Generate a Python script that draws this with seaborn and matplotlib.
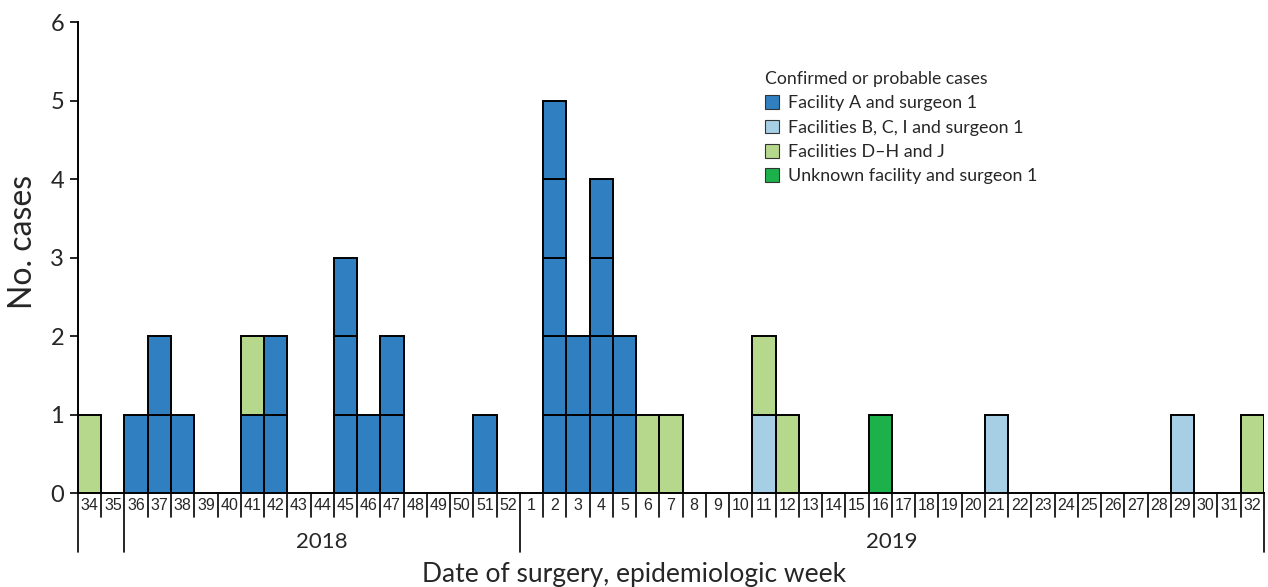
import numpy as np
import pandas as pd
import seaborn as sns
import matplotlib.pyplot as plt
from matplotlib.patches import Patch
from matplotlib.transforms import blended_transform_factory


# weeks 34-52 of 2018, then 1-32 of 2019
weeks_2018 = list(range(34, 53))
weeks_2019 = list(range(1, 33))
weeks = weeks_2018 + weeks_2019

categories = ["Facility A and surgeon 1",
              "Facilities B, C, I and surgeon 1",
              "Facilities D\u2013H and J",
              "Unknown facility and surgeon 1"]
colors = ["#2f7fc1", "#a6cee5", "#b6d88c", "#1db14b"]

# case counts per week
#               34 35 36 37 38 39 40 41 42 43 44 45 46 47 48 49 50 51 52
facility_a_18 = [0, 0, 1, 2, 1, 0, 0, 1, 2, 0, 0, 3, 1, 2, 0, 0, 0, 1, 0]
bci_18 =        [0] * 19
dhj_18 =        [1, 0, 0, 0, 0, 0, 0, 1, 0, 0, 0, 0, 0, 0, 0, 0, 0, 0, 0]
unknown_18 =    [0] * 19

#                1  2  3  4  5  6  7  8 |  9 10 11 12 13 14 15 16 | 17 18 19 20 21 22 23 24 | 25 26 27 28 29 30 31 32
facility_a_19 = [0, 5, 2, 4, 2, 0, 0, 0,   0, 0, 0, 0, 0, 0, 0, 0,   0, 0, 0, 0, 0, 0, 0, 0,   0, 0, 0, 0, 0, 0, 0, 0]
bci_19 =        [0, 0, 0, 0, 0, 0, 0, 0,   0, 0, 1, 0, 0, 0, 0, 0,   0, 0, 0, 0, 1, 0, 0, 0,   0, 0, 0, 0, 1, 0, 0, 0]
dhj_19 =        [0, 0, 0, 0, 0, 1, 1, 0,   0, 0, 1, 1, 0, 0, 0, 0,   0, 0, 0, 0, 0, 0, 0, 0,   0, 0, 0, 0, 0, 0, 0, 1]
unknown_19 =    [0, 0, 0, 0, 0, 0, 0, 0,   0, 0, 0, 0, 0, 0, 0, 1,   0, 0, 0, 0, 0, 0, 0, 0,   0, 0, 0, 0, 0, 0, 0, 0]

years = ["2018", "2019"]
yticks = [0, 1, 2, 3, 4, 5, 6]

counts = [facility_a_18 + facility_a_19,
          bci_18 + bci_19,
          dhj_18 + dhj_19,
          unknown_18 + unknown_19]
n = len(weeks)

# one row per case box, stacked in category order
rows = []
for i in range(n):
    level = 0
    for c, series in enumerate(counts):
        for _ in range(series[i]):
            rows.append({"x": i, "bottom": level, "cat": c})
            level += 1
boxes = pd.DataFrame(rows)

sns.set_theme(style="white")
plt.rcParams['font.family'] = ['Lato', 'DejaVu Sans']

fig = plt.figure(figsize=(12.68, 5.87), dpi=100)
ax = fig.add_axes([0.0615, 0.160, 0.9353, 0.8025])

ax.bar(boxes["x"], 1, bottom=boxes["bottom"], width=1.0,
       color=[colors[c] for c in boxes["cat"]], edgecolor="black", linewidth=1.4, zorder=3)

ax.set_xlim(-0.5, n - 0.5)
ax.set_ylim(0, 6)
ax.set_yticks(yticks)
ax.set_yticklabels([str(t) for t in yticks], fontsize=17)
ax.tick_params(axis="y", direction="out", length=6, width=1.2, color="black", left=True, pad=4)
ax.set_xticks([])
for s in ["top", "right"]:
    ax.spines[s].set_visible(False)
for s in ["left", "bottom"]:
    ax.spines[s].set_color("black")
    ax.spines[s].set_linewidth(1.4)

trans = blended_transform_factory(ax.transData, ax.transAxes)

# week label row with separators; longer lines mark the year blocks
year_edges = [-0.5, 1.5, 18.5, n - 0.5]
for i in range(n + 1):
    xb = i - 0.5
    y_end = -0.125 if xb in year_edges else -0.051
    ax.plot([xb, xb], [0, y_end], color="black", lw=1.2, transform=trans, clip_on=False)
for i, w in enumerate(weeks):
    ax.text(i, -0.027, str(w), transform=trans, ha="center", va="center",
            fontsize=11.5, family=["Liberation Sans", "DejaVu Sans"])

ax.text(10, -0.104, years[0], transform=trans, ha="center", va="center", fontsize=16)
ax.text(34.5, -0.104, years[1], transform=trans, ha="center", va="center", fontsize=16)

fig.text(0.5, 0.022, "Date of surgery, epidemiologic week", ha="center", va="center", fontsize=19)
fig.text(0.018, 0.588, "No. cases", ha="center", va="center", rotation=90, fontsize=23)

handles = [Patch(facecolor=col, edgecolor="#333333", linewidth=0.8) for col in colors]
leg = ax.legend(handles, categories, title="Confirmed or probable cases",
                loc="upper left", bbox_to_anchor=(0.603, 0.879), bbox_transform=fig.transFigure,
                frameon=False, fontsize=12.9, title_fontsize=12.7, handlelength=0.8, handleheight=0.8,
                handletextpad=0.5, labelspacing=0.46, borderpad=0, borderaxespad=0)
leg._legend_box.align = "left"
leg._legend_box.sep = 6

fig.savefig("out.png", dpi=100)
